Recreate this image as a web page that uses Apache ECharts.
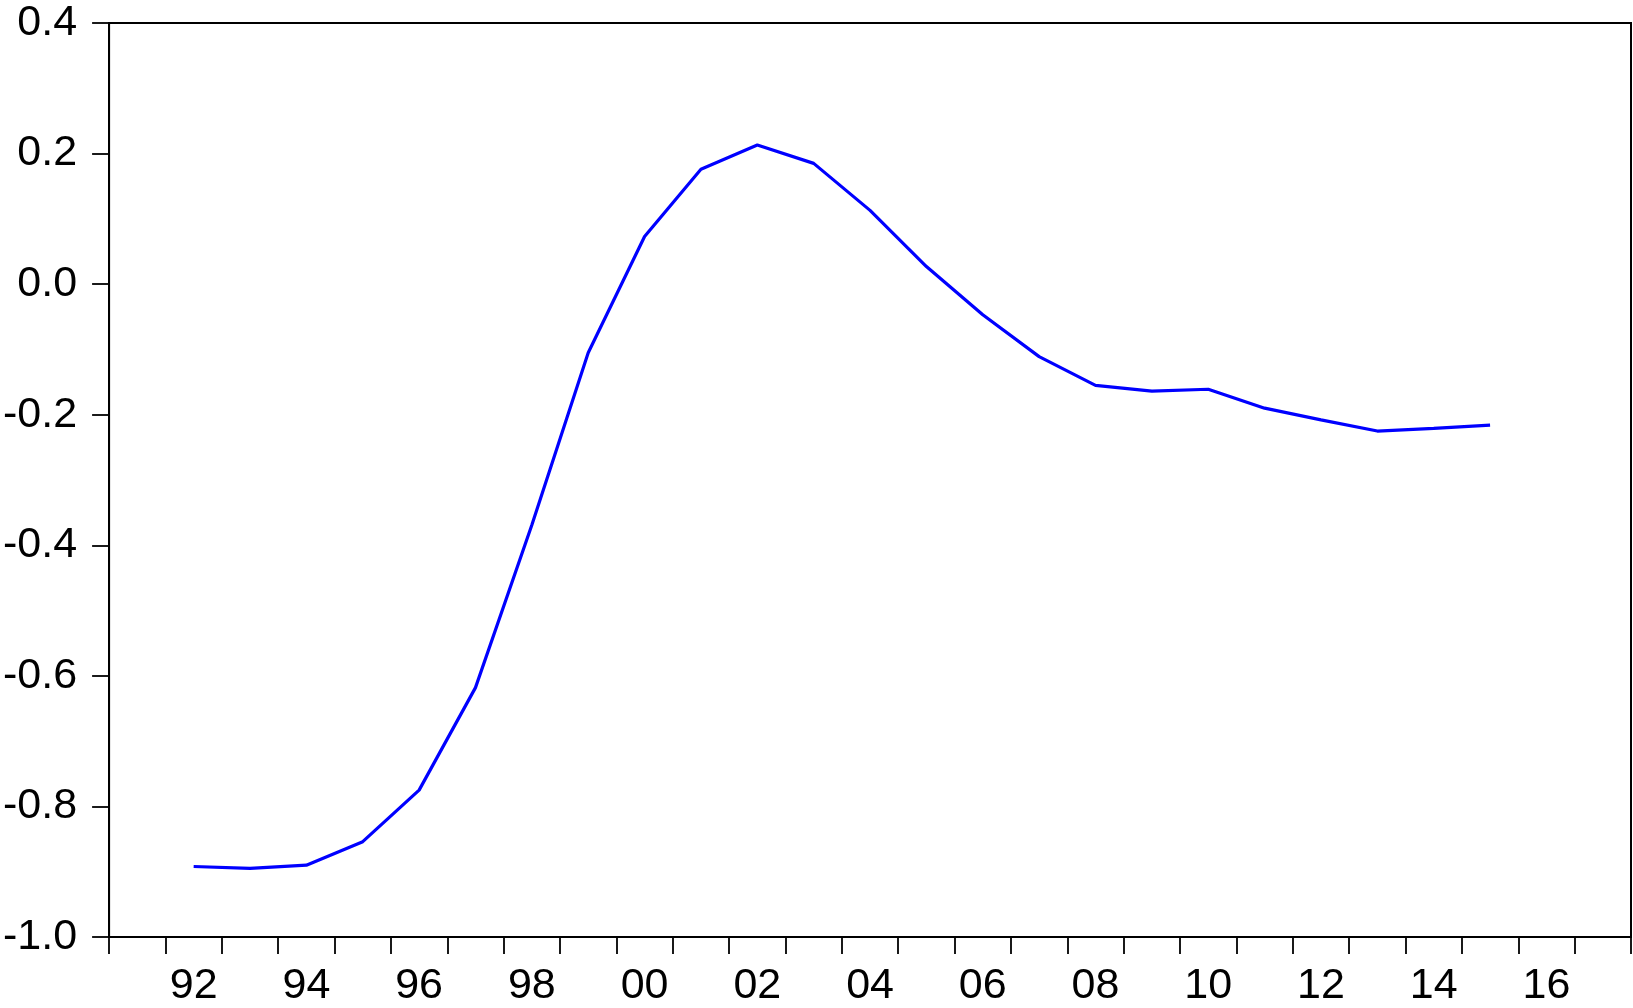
<!DOCTYPE html>
<html>
<head>
<meta charset="utf-8">
<script src="https://cdn.jsdelivr.net/npm/echarts@6/dist/echarts.min.js"></script>
<style>
html,body{margin:0;padding:0;background:#fff;}
#chart{width:1633px;height:1008px;}
</style>
</head>
<body>
<div id="chart"></div>
<script>
// Categories: years 1991-2017 (axis span)
const years = [1991,1992,1993,1994,1995,1996,1997,1998,1999,2000,2001,2002,2003,2004,2005,2006,2007,2008,2009,2010,2011,2012,2013,2014,2015,2016,2017];
// Observed series years and values
const dataYears = [1992,1993,1994,1995,1996,1997,1998,1999,2000,2001,2002,2003,2004,2005,2006,2007,2008,2009,2010,2011,2012,2013,2014,2015];
const values = [-0.892,-0.895,-0.890,-0.854,-0.775,-0.618,-0.369,-0.105,0.073,0.176,0.213,0.185,0.113,0.027,-0.047,-0.111,-0.155,-0.164,-0.161,-0.190,-0.208,-0.225,-0.221,-0.216];
const yTicks = [-1.0,-0.8,-0.6,-0.4,-0.2,0.0,0.2,0.4];

const seriesData = years.map(y => {
  const i = dataYears.indexOf(y);
  return i >= 0 ? values[i] : null;
});

const chart = echarts.init(document.getElementById('chart'));
const font = 'Liberation Sans, Arial, sans-serif';
chart.setOption({
  animation: false,
  backgroundColor: '#fff',
  grid: {
    left: 108, right: 2, top: 23, bottom: 70,
    show: true, borderColor: '#000', borderWidth: 2, backgroundColor: 'transparent'
  },
  xAxis: {
    type: 'category',
    data: years.map(String),
    boundaryGap: true,
    axisLine: { show: true, onZero: false, lineStyle: { color: '#000', width: 2 } },
    axisTick: { show: true, interval: 0, length: 17, inside: false, lineStyle: { color: '#000', width: 1.8 } },
    axisLabel: {
      interval: (idx, val) => Number(val) % 2 === 0,
      formatter: v => String(v).slice(2),
      color: '#000', fontSize: 43, fontFamily: font, margin: 28
    },
    splitLine: { show: false }
  },
  yAxis: {
    type: 'value',
    min: yTicks[0], max: yTicks[yTicks.length - 1], interval: 0.2,
    axisLine: { show: true, lineStyle: { color: '#000', width: 2 } },
    axisTick: { show: true, length: 17, inside: false, lineStyle: { color: '#000', width: 1.8 } },
    axisLabel: {
      formatter: v => v.toFixed(1),
      color: '#000', fontSize: 43, fontFamily: font, margin: 32
    },
    splitLine: { show: false }
  },
  series: [{
    type: 'line',
    data: seriesData,
    showSymbol: false,
    symbol: 'none',
    connectNulls: false,
    lineStyle: { color: '#0000ff', width: 3.2 }
  }]
});
</script>
</body>
</html>
